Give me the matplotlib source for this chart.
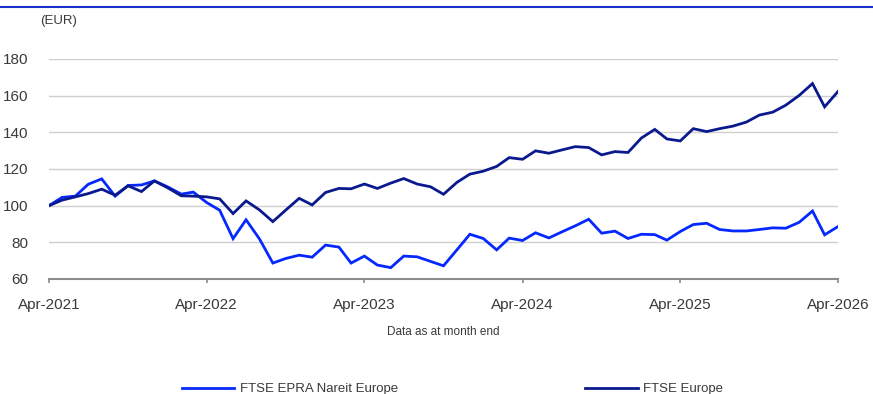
import matplotlib
matplotlib.use("Agg")
import matplotlib.pyplot as plt
import matplotlib.dates as mdates
import pandas as pd

plt.rcParams["font.family"] = ["Liberation Sans", "DejaVu Sans"]

# month-end series, rebased to 100 in Apr-2021
dates = pd.date_range("2021-04-01", "2026-04-01", freq="MS")

epra = [100.0, 104.5, 105.2, 111.7, 114.6, 105.2, 111.0, 111.3, 113.5, 110.2,
        106.3, 107.4, 101.7, 97.5, 82.0, 92.3, 81.9, 68.7, 71.2, 73.0,
        71.9, 78.5, 77.4, 68.7, 72.5, 67.6, 66.2, 72.5, 72.1, 69.6,
        67.2, 75.9, 84.4, 82.1, 75.9, 82.3, 81.0, 85.2, 82.4, 85.7,
        89.0, 92.6, 85.0, 86.1, 82.1, 84.4, 84.2, 81.2, 85.9, 89.7,
        90.4, 87.0, 86.2, 86.2, 87.0, 87.9, 87.7, 90.9, 97.1, 84.1,
        88.6]

europe = [100.0, 103.0, 104.8, 106.6, 109.0, 105.7, 110.8, 107.7, 113.5, 109.7,
          105.4, 105.2, 104.8, 103.7, 95.7, 102.6, 97.7, 91.3, 97.6, 104.0,
          100.4, 107.2, 109.4, 109.2, 111.8, 109.4, 112.3, 114.8, 111.8, 110.3,
          106.2, 112.7, 117.2, 118.8, 121.4, 126.2, 125.3, 129.9, 128.6, 130.4,
          132.2, 131.7, 127.7, 129.5, 129.0, 136.9, 141.6, 136.4, 135.3, 142.0,
          140.4, 142.0, 143.4, 145.6, 149.4, 151.0, 154.8, 160.1, 166.6, 153.9,
          162.3]

series_names = ["FTSE EPRA Nareit Europe", "FTSE Europe"]
series_colors = ["#0528ff", "#0a1a8e"]
y_ticks = [60, 80, 100, 120, 140, 160, 180]

text_color = "#3a3a3a"
axis_gray = "#8c8c8c"

fig = plt.figure(figsize=(8.73, 3.94), dpi=100)
ax = fig.add_axes([49 / 873, 1 - 279 / 394, (838 - 49) / 873, (279 - 59) / 394])

lines = []
for vals, name, col in zip([epra, europe], series_names, series_colors):
    ln, = ax.plot(dates, vals, color=col, lw=2.0, label=name, solid_joinstyle="miter")
    lines.append(ln)

ax.set_xlim(dates[0], dates[-1])
ax.set_ylim(60, 180)
ax.set_yticks(y_ticks)
ax.xaxis.set_major_locator(mdates.MonthLocator(bymonth=4))
ax.xaxis.set_major_formatter(mdates.DateFormatter("%b-%Y"))

ax.grid(axis="y", color="#cfcfcf", lw=1.0)
ax.set_axisbelow(True)
for side in ["top", "right", "left"]:
    ax.spines[side].set_visible(False)
ax.spines["bottom"].set_color(axis_gray)
ax.spines["bottom"].set_linewidth(1.5)

ax.tick_params(axis="y", length=0, pad=15, labelsize=11, labelcolor=text_color)
ax.tick_params(axis="x", direction="out", length=3, width=1.2, color=axis_gray,
               pad=11, labelsize=11, labelcolor=text_color)

ax.set_xlabel("Data as at month end", fontsize=8.5, color=text_color, labelpad=10)

fig.text(40 / 873, 1 - 21 / 394, "(EUR)", fontsize=9.5, color=text_color, va="center", ha="left")

# blue rule along the top
fig.add_artist(plt.Line2D([0, 872 / 873], [1 - 7 / 394, 1 - 7 / 394],
                          color="#1a30c8", lw=1.5, transform=fig.transFigure))

fig.legend(lines, series_names, loc="center left", bbox_to_anchor=(175 / 873, 1 - 389 / 394),
           ncol=2, frameon=False, fontsize=9.5, handlelength=4.0, handletextpad=0.4,
           columnspacing=14.2, borderpad=0, labelcolor=text_color)

fig.savefig("out.png", dpi=100)
